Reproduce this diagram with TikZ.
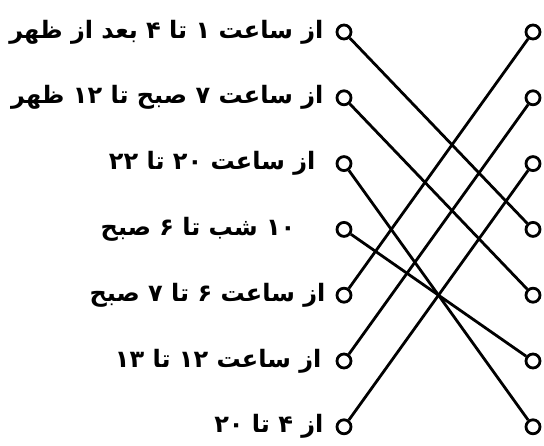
\documentclass[tikz,border=0pt]{standalone}
\usepackage{fontspec}
\newfontfamily\arabicfont[Script=Arabic]{DejaVu Sans}
\TeXXeTstate=1
\usetikzlibrary{positioning}

\tikzset{
    ring/.style={circle, draw, line width=2.8pt, minimum size=14pt, inner sep=0pt},
    wire/.style={line width=2.8pt},
    caption/.style={inner sep=0pt, font=\arabicfont\bfseries\fontsize{24}{28}\selectfont}
}

\begin{document}
\begin{tikzpicture}[x=1pt, y=-1pt]

    \def\dy{65.8}

    \useasboundingbox (0,0) rectangle (544,446);

    % left rings and times
    \foreach \i/\g/\txt in {
        1/12/از ساعت ۱ تا ۴ بعد از ظهر,
        2/12/از ساعت ۷ صبح تا ۱۲ ظهر,
        3/20/از ساعت ۲۰ تا ۲۲,
        4/40/۱۰ شب تا ۶ صبح,
        5/10/از ساعت ۶ تا ۷ صبح,
        6/14/از ساعت ۱۲ تا ۱۳,
        7/12/از ۴ تا ۲۰
    }{
        \node[ring] (l\i) at (344, {32+\dy*(\i-1)}) {};
        \node[caption, left=\g pt of l\i] (t\i) {\beginR\txt\endR};
    }

    % right rings
    \foreach \i in {1,...,7}{
        \node[ring] (r\i) at (533, {32+\dy*(\i-1)}) {};
    }

    % matching
    \foreach \a/\b in {1/4, 2/5, 3/7, 4/6, 5/1, 6/2, 7/3}{
        \draw[wire] (l\a) -- (r\b);
    }

\end{tikzpicture}
\end{document}
